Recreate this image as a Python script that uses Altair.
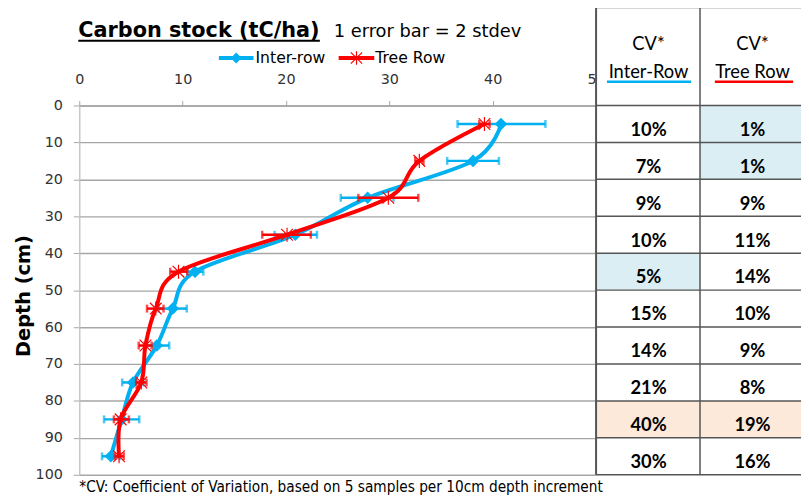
import altair as alt
import pandas as pd

# ---------------- data ----------------
depth = [5, 15, 25, 35, 45, 55, 65, 75, 85, 95]
inter = [40.8, 38.1, 27.9, 20.9, 11.2, 9.05, 7.5, 5.2, 4.1, 3.05]
inter_lo = [36.6, 35.6, 25.3, 18.9, 10.45, 7.7, 6.3, 4.15, 2.4, 2.2]
inter_hi = [45.1, 40.6, 30.4, 23.0, 12.0, 10.4, 8.7, 6.2, 5.8, 3.9]
tree = [39.2, 32.9, 29.9, 20.1, 9.6, 7.4, 6.4, 6.0, 4.0, 3.85]
tree_lo = [38.7, 32.5, 27.0, 17.7, 8.8, 6.55, 5.75, 5.5, 3.35, 3.45]
tree_hi = [39.7, 33.3, 32.8, 22.4, 10.45, 8.15, 7.0, 6.5, 4.8, 4.3]

x_ticks = [0, 10, 20, 30, 40, 50]
y_ticks = [0, 10, 20, 30, 40, 50, 60, 70, 80, 90, 100]

row_top = [0, 10, 20, 30, 40, 50, 60, 70, 80, 90]
row_bottom = [10, 20, 30, 40, 50, 60, 70, 80, 90, 100]
cv_inter = ["10%", "7%", "9%", "10%", "5%", "15%", "14%", "21%", "40%", "30%"]
cv_tree = ["1%", "1%", "9%", "11%", "14%", "10%", "9%", "8%", "19%", "16%"]
fill_inter = ["#FFFFFF", "#FFFFFF", "#FFFFFF", "#FFFFFF", "#DAEEF3",
              "#FFFFFF", "#FFFFFF", "#FFFFFF", "#FDE9D9", "#FFFFFF"]
fill_tree = ["#DAEEF3", "#DAEEF3", "#FFFFFF", "#FFFFFF", "#FFFFFF",
             "#FFFFFF", "#FFFFFF", "#FFFFFF", "#FDE9D9", "#FFFFFF"]

BLUE = "#00B0F0"
RED = "#FF0000"
STAR = "M-1,-1L1,1M1,-1L-1,1M0,-1.2L0,1.2"

W, H = 522, 373

df = pd.DataFrame({
    "depth": depth, "inter": inter, "inter_lo": inter_lo, "inter_hi": inter_hi,
    "tree": tree, "tree_lo": tree_lo, "tree_hi": tree_hi,
})
tbl = pd.DataFrame({
    "top": row_top, "bottom": row_bottom,
    "text_y": [t + 8.2 for t in row_top],
    "cv_inter": cv_inter, "cv_tree": cv_tree,
    "fill_inter": fill_inter, "fill_tree": fill_tree,
})
lines_df = pd.DataFrame({"b": y_ticks})
one = pd.DataFrame({"t": [""]})

xscale = alt.Scale(domain=[0, 50], nice=False, zero=False)
yscale = alt.Scale(domain=[0, 100], reverse=True, nice=False, zero=False)

x_axis = alt.Axis(orient="top", values=x_ticks, title=None, grid=False,
                  tickSize=5, labelPadding=17, labelBaseline="alphabetic",
                  labelFont="DejaVu Sans", labelFontSize=14.5, labelColor="#333333",
                  domainColor="#A6A6A6", tickColor="#A6A6A6", domainWidth=1.3,
                  labelFlush=False, labelOverlap=False)
y_axis = alt.Axis(values=y_ticks, title=None, grid=True, gridColor="#A6A6A6",
                  gridWidth=1.3, tickSize=6, labelPadding=11,
                  labelFont="DejaVu Sans", labelFontSize=14.5, labelColor="#333333",
                  domainColor="#BFBFBF", tickColor="#A6A6A6", domainWidth=1.3,
                  labelOverlap=False, labelFlush=False)


def X(field):
    return alt.X(field, scale=xscale, axis=x_axis)


def Y(field):
    return alt.Y(field, scale=yscale, axis=y_axis)


base = alt.Chart(df)


def series(col, lo, hi, color, point_layer):
    err = base.mark_rule(color=color, strokeWidth=2.5).encode(
        x=X(f"{lo}:Q"), x2=f"{hi}:Q", y=Y("depth:Q"))
    cap_lo = base.mark_tick(color=color, orient="vertical", size=8, thickness=2.5).encode(
        x=X(f"{lo}:Q"), y=Y("depth:Q"))
    cap_hi = base.mark_tick(color=color, orient="vertical", size=8, thickness=2.5).encode(
        x=X(f"{hi}:Q"), y=Y("depth:Q"))
    line = base.mark_line(color=color, strokeWidth=4, interpolate="cardinal").encode(
        x=X(f"{col}:Q"), y=Y("depth:Q"), order="depth:Q")
    return [err, cap_lo, cap_hi, line, point_layer]


blue_pts = base.mark_point(shape="diamond", filled=True, size=160, color=BLUE, opacity=1).encode(
    x=X("inter:Q"), y=Y("depth:Q"))
red_pts = base.mark_point(shape=STAR, filled=False, size=140, color=RED, strokeWidth=1.2,
                          opacity=1).encode(x=X("tree:Q"), y=Y("depth:Q"))


def label(text, x, y, size, weight="normal", font="DejaVu Sans", align="left",
          baseline="alphabetic", color="#000000", angle=0):
    return alt.Chart(pd.DataFrame({"t": [text]})).mark_text(
        align=align, baseline=baseline, fontSize=size, fontWeight=weight, font=font,
        color=color, angle=angle).encode(x=alt.value(x), y=alt.value(y), text="t:N")


def hrule(x1, x2, y, color, width):
    return alt.Chart(one).mark_rule(color=color, strokeWidth=width).encode(
        x=alt.value(x1), x2=alt.value(x2), y=alt.value(y))


def vrule(x, y1, y2, color, width):
    return alt.Chart(one).mark_rule(color=color, strokeWidth=width).encode(
        x=alt.value(x), y=alt.value(y1), y2=alt.value(y2))


TL, TM, TR = 522, 627, 729
C1, C2 = 575, 680
LINE = "#555555"

table_layers = [
    alt.Chart(one).mark_rect(color="#FFFFFF").encode(
        x=alt.value(TL + 1), x2=alt.value(TR), y=alt.value(-99), y2=alt.value(0)),
    alt.Chart(tbl).mark_rect().encode(
        x=alt.value(TL), x2=alt.value(TM), y=Y("top:Q"), y2="bottom:Q",
        color=alt.Color("fill_inter:N", scale=None)),
    alt.Chart(tbl).mark_rect().encode(
        x=alt.value(TM), x2=alt.value(TR), y=Y("top:Q"), y2="bottom:Q",
        color=alt.Color("fill_tree:N", scale=None)),
    alt.Chart(lines_df).mark_rule(color=LINE, strokeWidth=1.5).encode(
        x=alt.value(TL), x2=alt.value(TR), y=Y("b:Q")),
    hrule(TL, TR, -99, LINE, 1.5),
    vrule(TL, -99, H, LINE, 2),
    vrule(TM, -99, H, LINE, 1.5),
    alt.Chart(tbl).mark_text(font="Lato", fontWeight="bold", fontSize=18.5,
                             align="center", baseline="alphabetic", color="#000000").encode(
        x=alt.value(C1), y=Y("text_y:Q"), text="cv_inter:N"),
    alt.Chart(tbl).mark_text(font="Lato", fontWeight="bold", fontSize=18.5,
                             align="center", baseline="alphabetic", color="#000000").encode(
        x=alt.value(C2), y=Y("text_y:Q"), text="cv_tree:N"),
    label("CV*", C1, -56, 18.5, font="Lato", align="center"),
    label("Inter-Row", C1, -28, 18.5, font="Lato", align="center"),
    label("CV*", C2, -56, 18.5, font="Lato", align="center"),
    label("Tree Row", C2, -28, 18.5, font="Lato", align="center"),
    hrule(533, 618, -24, BLUE, 2.5),
    hrule(642, 721, -24, RED, 2.5),
]

annot = [
    label("Carbon stock (tC/ha)", -1, -69, 21, weight="bold"),
    hrule(-1, 243, -65.5, "#000000", 2),
    label("1 error bar = 2 stdev", 257, -69, 18),
    hrule(141, 176, -48, BLUE, 4),
    alt.Chart(one).mark_point(shape="diamond", filled=True, size=120, color=BLUE,
                              opacity=1).encode(x=alt.value(158.5), y=alt.value(-48)),
    label("Inter-row", 178, -48, 15.8, baseline="middle"),
    hrule(262, 298, -48, RED, 4),
    alt.Chart(one).mark_point(shape=STAR, filled=False, size=130, color=RED,
                              strokeWidth=1.2, opacity=1).encode(
        x=alt.value(280), y=alt.value(-48)),
    label("Tree Row", 299, -48, 15.8, baseline="middle"),
    label("Depth (cm)", -56, 192.5, 19.5, weight="bold", align="center",
          baseline="middle", angle=270),
    label("*CV: Coefficient of Variation, based on 5 samples per 10cm depth increment",
          0, 390, 15.4, font="DejaVu Sans Condensed"),
]

layers = (series("inter", "inter_lo", "inter_hi", BLUE, blue_pts)
          + series("tree", "tree_lo", "tree_hi", RED, red_pts)
          + table_layers + annot)

chart = alt.layer(*layers).properties(
    width=W, height=H,
    padding={"left": 72, "top": 96, "right": 207, "bottom": 21},
    autosize=alt.AutoSizeParams(type="none"),
).configure_view(stroke=None)

chart.save("out.html", embed_options={"renderer": "svg", "actions": False})
